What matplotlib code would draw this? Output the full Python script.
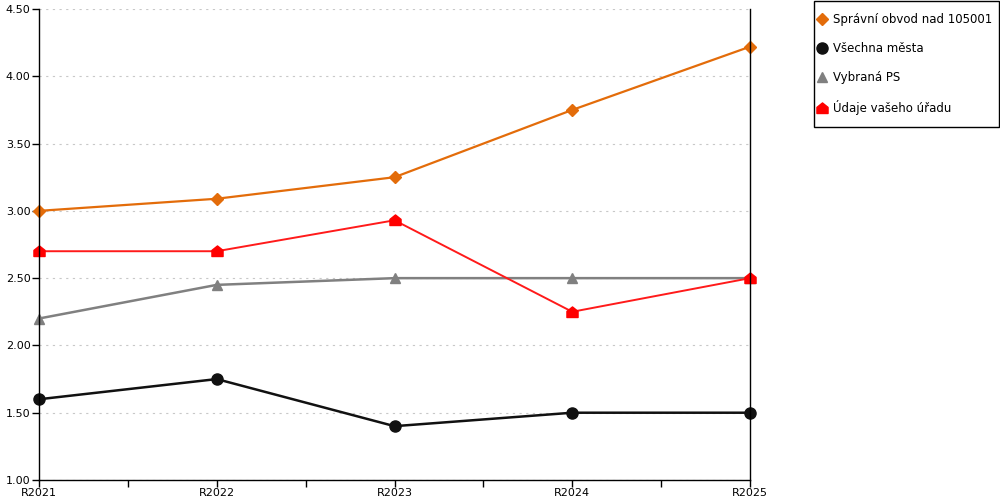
import matplotlib.pyplot as plt
from matplotlib.path import Path
from matplotlib.patches import Rectangle
from matplotlib.ticker import FixedLocator

years = ["R2021", "R2022", "R2023", "R2024", "R2025"]
spravni_obvod = [3.00, 3.09, 3.25, 3.75, 4.22]
vsechna_mesta = [1.60, 1.75, 1.40, 1.50, 1.50]
vybrana_ps = [2.20, 2.45, 2.50, 2.50, 2.50]
vas_urad = [2.70, 2.70, 2.93, 2.25, 2.50]

# house-shaped marker (square with a roof)
house = Path([(-1, -0.9), (1, -0.9), (1, 0.2), (0, 1), (-1, 0.2), (-1, -0.9)],
             [Path.MOVETO, Path.LINETO, Path.LINETO, Path.LINETO, Path.LINETO, Path.CLOSEPOLY])

plt.rcParams['font.family'] = ['DejaVu Sans']

fig = plt.figure(figsize=(10, 5), dpi=100)
ax = fig.add_axes([0.039, 0.04, 0.711, 0.942])

x = list(range(len(years)))
ax.plot(x, spravni_obvod, color='#e36c0a', lw=1.6, marker='D', ms=6.5, clip_on=False,
        label='Správní obvod nad 105001')
ax.plot(x, vsechna_mesta, color='#111111', lw=1.8, marker='o', ms=8, clip_on=False,
        label='Všechna města')
ax.plot(x, vybrana_ps, color='#808080', lw=1.8, marker='^', ms=7, clip_on=False,
        label='Vybraná PS')
ax.plot(x, vas_urad, color='#ff1a1a', lw=1.4, marker=house, ms=8, markerfacecolor='#ff0000',
        markeredgecolor='#ff0000', clip_on=False, label='Údaje vašeho úřadu')

ax.set_xlim(0, len(years) - 1)
ax.set_ylim(1.0, 4.5)
ax.set_xticks(x)
ax.set_xticklabels(years)
ax.xaxis.set_minor_locator(FixedLocator([0.5, 1.5, 2.5, 3.5]))
ax.set_yticks([1.0, 1.5, 2.0, 2.5, 3.0, 3.5, 4.0, 4.5])
ax.set_yticklabels(['%.2f' % v for v in ax.get_yticks()])
ax.tick_params(axis='both', labelsize=8, length=5, width=1, color='black', pad=1)
ax.tick_params(axis='x', which='minor', length=5, width=1)
ax.grid(axis='y', color='#c8c8c8', ls=(0, (2, 4)), lw=0.8)

ax.spines['top'].set_visible(False)
for side in ['left', 'right', 'bottom']:
    ax.spines[side].set_color('black')
    ax.spines[side].set_linewidth(1)

# legend frame drawn separately so the padding can differ per side
fig.patches.append(Rectangle((0.8135, 0.746), 0.185, 0.252, transform=fig.transFigure,
                             fill=False, edgecolor='black', lw=1))
leg = fig.legend(loc='upper left', bbox_to_anchor=(0.818, 0.974), borderaxespad=0,
                 fontsize=8.5, frameon=False, borderpad=0, labelspacing=1.35,
                 handlelength=0.7, handletextpad=0.55, markerscale=1.0)
for h in leg.get_lines():
    h.set_linestyle('none')

fig.savefig('out.png', dpi=100)
